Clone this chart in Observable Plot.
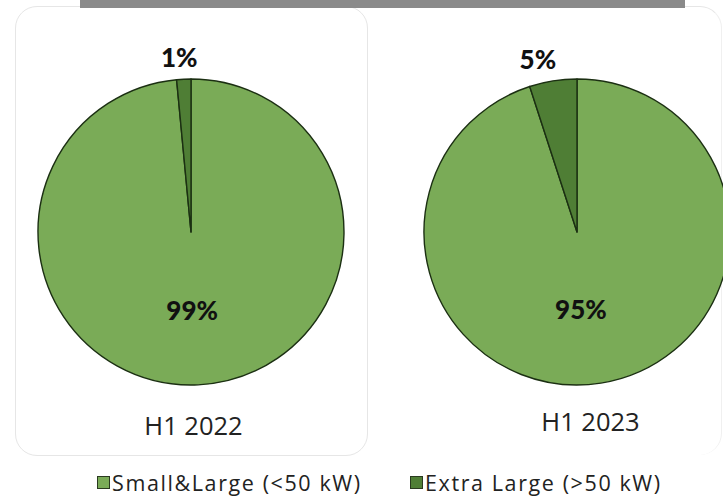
<!DOCTYPE html>
<html><head><meta charset="utf-8">
<script src="https://cdn.jsdelivr.net/npm/d3@7"></script>
<script src="https://cdn.jsdelivr.net/npm/@observablehq/plot@0.6"></script>
<style>
body{margin:0;background:#fff;width:723px;height:498px;overflow:hidden;position:relative;font-family:"Open Sans",sans-serif}
#bar{position:absolute;left:80px;top:0;width:605px;height:8px;background:#8a8a8a;z-index:2}
.panel{position:absolute;top:6px;border:1px solid #e6e6e6;border-radius:22px;background:#fff}
#chart{position:absolute;left:0;top:0}
#legend{position:absolute;top:464px;left:0;width:723px;height:36px}
.item{position:absolute;top:0;height:36px;display:flex;align-items:center;font-size:21.5px;letter-spacing:1.6px;color:#222;white-space:nowrap}
.sw{width:11px;height:11px;border:1px solid #2a3a20;margin-right:2px}
</style></head>
<body>
<div id="bar"></div>
<div class="panel" style="left:340px;width:381px;height:448px;border-left:none;border-bottom:none;border-right-color:#f0f0f0"></div>
<div class="panel" style="left:15px;width:351px;height:448px"></div>
<div id="chart"></div>
<div id="legend"></div>
<script>
const years = ["H1 2022", "H1 2023"];
const categories = ["Small&Large (<50 kW)", "Extra Large (>50 kW)"];
const smallLarge = [98.5, 95];
const extraLarge = [1.5, 5];
const labelsSmall = ["99%", "95%"];
const labelsExtra = ["1%", "5%"];
const colors = ["#7aab57", "#4f7e35"];

const rows = years.flatMap((y, i) => [
  {year: y, category: categories[0], value: smallLarge[i], label: labelsSmall[i], inside: true},
  {year: y, category: categories[1], value: extraLarge[i], label: labelsExtra[i], inside: false}
]);

const R = 153, CY = 232;
const colorFn = d3.scaleOrdinal(categories, colors);

function pies(index, scales) {
  const g = d3.create("svg:g");
  const pie = d3.pie().sort(null).value(d => d.value);
  const arc = d3.arc().innerRadius(0).outerRadius(R);
  for (const y of years) {
    const slices = pie(rows.filter(d => d.year === y));
    const cx = scales.x(y);
    const gg = g.append("g").attr("transform", `translate(${cx},${CY})`);
    gg.selectAll("path").data(slices).join("path")
      .attr("d", arc)
      .attr("fill", d => (scales.color ? scales.color(d.data.category) : colorFn(d.data.category)))
      .attr("stroke", "#1b2f12").attr("stroke-width", 1.4).attr("stroke-linejoin", "round");
    gg.selectAll("text").data(slices).join("text")
      .attr("x", d => { const m = (d.startAngle + d.endAngle) / 2; return d.data.inside ? 25 * Math.sin(m) : 250 * Math.sin(m); })
      .attr("y", d => { const m = (d.startAngle + d.endAngle) / 2; return d.data.inside ? -79 * Math.cos(m) : -175 * Math.cos(m); })
      .attr("dy", "0.36em")
      .attr("text-anchor", "middle")
      .attr("font-family", "Lato, sans-serif").attr("font-weight", 900).attr("font-size", 26)
      .attr("fill", "#111")
      .text(d => d.data.label);
  }
  return g.node();
}

const chart = Plot.plot({
  width: 723, height: 462,
  margin: 0,
  style: {background: "transparent", overflow: "visible"},
  x: {type: "point", domain: years, range: [191, 577], padding: 0, axis: null},
  color: {domain: categories, range: colors},
  marks: [
    pies,
    Plot.text([years[0]], {x: d => d, frameAnchor: "bottom", dy: -28, dx: 2, text: d => d, fontSize: 25.5, fill: "#222", fontFamily: "Open Sans, sans-serif"}),
    Plot.text([years[1]], {x: d => d, frameAnchor: "bottom", dy: -32, dx: 13, text: d => d, fontSize: 25.5, fill: "#222", fontFamily: "Open Sans, sans-serif"})
  ]
});
document.getElementById("chart").appendChild(chart);

const legend = document.getElementById("legend");
const lefts = [97, 410];
categories.forEach((c, i) => {
  const it = document.createElement("div");
  it.className = "item";
  it.style.left = lefts[i] + "px";
  const sw = document.createElement("span");
  sw.className = "sw";
  sw.style.background = colors[i];
  it.appendChild(sw);
  it.appendChild(document.createTextNode(c));
  legend.appendChild(it);
});
</script>
</body></html>
